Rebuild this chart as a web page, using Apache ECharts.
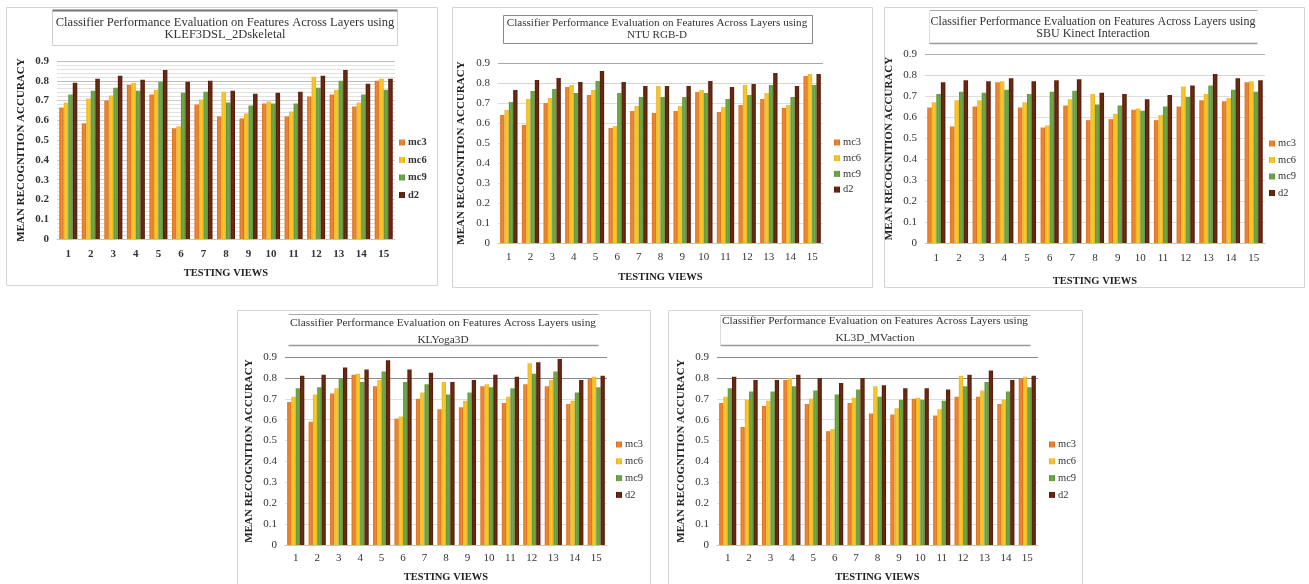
<!DOCTYPE html>
<html><head><meta charset="utf-8">
<script src="https://cdn.jsdelivr.net/npm/echarts@6/dist/echarts.min.js"></script>
<style>html,body{margin:0;padding:0;background:#fff}#c{width:1309px;height:584px}</style>
</head><body><div id="c"></div>
<script>
// ---------- DATA ----------
const views = ['1','2','3','4','5','6','7','8','9','10','11','12','13','14','15'];
const seriesNames = ['mc3','mc6','mc9','d2'];
const titleLine1 = 'Classifier Performance Evaluation on Features Across Layers using';
const datasetNames = ['KLEF3DSL_2Dskeletal','NTU RGB-D','SBU Kinect Interaction','KLYoga3D','KL3D_MVaction'];
const yAxisTitle = 'MEAN RECOGNITION ACCURACY';
const xAxisTitle = 'TESTING VIEWS';

const klef_mc3 = [0.665,0.585,0.700,0.780,0.730,0.560,0.680,0.620,0.610,0.685,0.620,0.720,0.730,0.670,0.800];
const klef_mc6 = [0.690,0.710,0.725,0.790,0.755,0.570,0.705,0.745,0.635,0.695,0.645,0.820,0.755,0.690,0.810];
const klef_mc9 = [0.730,0.750,0.765,0.750,0.795,0.740,0.745,0.690,0.675,0.685,0.685,0.765,0.800,0.730,0.755];
const klef_d2  = [0.790,0.810,0.825,0.805,0.855,0.795,0.800,0.750,0.735,0.740,0.745,0.825,0.855,0.785,0.810];

const ntu_mc3 = [0.640,0.590,0.700,0.780,0.740,0.575,0.660,0.650,0.660,0.755,0.655,0.690,0.720,0.675,0.835];
const ntu_mc6 = [0.665,0.720,0.725,0.790,0.765,0.585,0.685,0.785,0.685,0.765,0.680,0.790,0.750,0.690,0.845];
const ntu_mc9 = [0.705,0.760,0.770,0.750,0.810,0.750,0.730,0.730,0.730,0.750,0.720,0.740,0.790,0.730,0.790];
const ntu_d2  = [0.765,0.815,0.825,0.805,0.860,0.805,0.785,0.785,0.785,0.810,0.780,0.795,0.850,0.785,0.845];

const sbu_mc3 = [0.645,0.555,0.650,0.765,0.645,0.550,0.655,0.585,0.590,0.635,0.585,0.650,0.680,0.675,0.765];
const sbu_mc6 = [0.670,0.680,0.680,0.770,0.670,0.560,0.685,0.710,0.615,0.640,0.610,0.745,0.710,0.690,0.770];
const sbu_mc9 = [0.710,0.720,0.715,0.730,0.710,0.720,0.725,0.660,0.655,0.630,0.650,0.695,0.750,0.730,0.720];
const sbu_d2  = [0.765,0.775,0.770,0.785,0.770,0.775,0.780,0.715,0.710,0.685,0.705,0.750,0.805,0.785,0.775];

const yoga_mc3 = [0.685,0.590,0.725,0.815,0.760,0.605,0.700,0.650,0.660,0.760,0.680,0.770,0.760,0.675,0.795];
const yoga_mc6 = [0.710,0.720,0.750,0.820,0.790,0.615,0.730,0.780,0.690,0.770,0.710,0.870,0.790,0.690,0.805];
const yoga_mc9 = [0.750,0.755,0.795,0.780,0.830,0.780,0.770,0.720,0.730,0.755,0.750,0.820,0.830,0.730,0.755];
const yoga_d2  = [0.810,0.815,0.850,0.840,0.885,0.840,0.825,0.780,0.790,0.815,0.805,0.875,0.890,0.790,0.810];

const mv_mc3 = [0.680,0.565,0.665,0.790,0.675,0.545,0.680,0.630,0.625,0.700,0.620,0.710,0.710,0.675,0.795];
const mv_mc6 = [0.710,0.695,0.690,0.800,0.700,0.555,0.705,0.760,0.655,0.705,0.650,0.810,0.740,0.695,0.805];
const mv_mc9 = [0.750,0.735,0.735,0.760,0.740,0.720,0.745,0.710,0.695,0.695,0.690,0.760,0.780,0.735,0.755];
const mv_d2  = [0.805,0.790,0.790,0.815,0.800,0.775,0.800,0.765,0.750,0.750,0.745,0.815,0.835,0.790,0.810];

const panelData = [
  [klef_mc3, klef_mc6, klef_mc9, klef_d2],
  [ntu_mc3, ntu_mc6, ntu_mc9, ntu_d2],
  [sbu_mc3, sbu_mc6, sbu_mc9, sbu_d2],
  [yoga_mc3, yoga_mc6, yoga_mc9, yoga_d2],
  [mv_mc3, mv_mc6, mv_mc9, mv_d2]
];

// ---------- LAYOUT / STYLE ----------
const FONT = '"Liberation Serif", "DejaVu Serif", serif';
const barBase  = ['#DB6E1E', '#EBB416', '#5A9436', '#521A09'];
const barLight = ['#EE8A34', '#F6CB36', '#74AA4C', '#6E2C14'];

const layout = [
  {frame:[6,7,431,278], box:[52,10,345,35], boxType:1, cx:225, ty:[23,35], fs:12.5,
   grid:{left:57,top:61,width:338,height:178}, bold:true, lg:{left:399,top:137,gap:6.5},
   yGap:30, xGap:29, xMargin:10, top:['#bdbdbd','#bdbdbd'], line:'#cfcfcf', minor:true},
  {frame:[452,7,420,280], box:[503,15,309,28], boxType:2, cx:657, ty:[23,35], fs:11.1,
   grid:{left:498,top:63,width:325,height:180}, bold:false, lg:{left:834,top:137,gap:4.7},
   yGap:31, xGap:29, xMargin:9, top:['#d6d6d6','#a8a8a8'], line:'#dedede', minor:false},
  {frame:[884,7,420,280], box:[929,10,328,33], boxType:3, cx:1093, ty:[22,34], fs:12,
   grid:{left:925,top:54,width:340,height:189}, bold:false, lg:{left:1269,top:138,gap:5.5},
   yGap:30, xGap:33, xMargin:10, top:['#d6d6d6','#b0b0b0'], line:'#dedede', minor:false},
  {frame:[237,310,413,290], box:[288,314,310,31], boxType:4, cx:443, ty:[323,340], fs:11.3,
   grid:{left:285,top:357,width:322,height:189}, bold:false, lg:{left:616,top:439,gap:5.8},
   yGap:30, xGap:27, xMargin:8, top:['#8a8a8a','#8a8a8a'], line:'#dedede', minor:false},
  {frame:[668,310,414,290], box:[720,315,310,30], boxType:5, cx:875, ty:[321,338], fs:11.3,
   grid:{left:717,top:357,width:321,height:189}, bold:false, lg:{left:1049,top:439,gap:5.8},
   yGap:30, xGap:27, xMargin:8, top:['#8a8a8a','#8a8a8a'], line:'#dedede', minor:false}
];

function grad(j){
  return new echarts.graphic.LinearGradient(0,0,1,0,[
    {offset:0,color:barBase[j]},{offset:0.5,color:barLight[j]},{offset:1,color:barBase[j]}]);
}

const grids=[], xAxes=[], yAxes=[], series=[], legends=[], graphics=[];
layout.forEach((L,i)=>{
  grids.push(Object.assign({containLabel:false}, L.grid));
  const w = L.bold ? 'bold' : 'normal';
  xAxes.push({type:'category', gridIndex:i, data:views,
    axisTick:{show:false}, axisLine:{lineStyle:{color:'#c4c4c4'}},
    axisLabel:{fontFamily:FONT, fontSize:11, color:'#333', fontWeight:w, margin:L.xMargin},
    name:xAxisTitle, nameLocation:'middle', nameGap:L.xGap,
    nameTextStyle:{fontFamily:FONT, fontSize:10.5, fontWeight:'bold', color:'#222'}});
  const lineColors=[]; for(let k=0;k<10;k++) lineColors.push(k===8?L.top[0]:(k===9?L.top[1]:L.line));
  yAxes.push({type:'value', gridIndex:i, min:0, max:0.9, interval:0.1,
    axisLine:{show:false}, axisTick:{show:false},
    axisLabel:{fontFamily:FONT, fontSize:11, color:'#333', fontWeight:w, margin:8},
    splitLine:{lineStyle:{color:lineColors}},
    minorTick:{show:false, splitNumber:5},
    minorSplitLine:{show:L.minor, lineStyle:{color:'#e2e2e2'}},
    name:yAxisTitle, nameLocation:'middle', nameGap:L.yGap,
    nameTextStyle:{fontFamily:FONT, fontSize:11, fontWeight:'bold', color:'#222'}});
  seriesNames.forEach((n,j)=>{
    series.push({type:'bar', name:n, xAxisIndex:i, yAxisIndex:i, data:panelData[i][j],
      barGap:'0%', barCategoryGap:'20%', itemStyle:{color:grad(j)}, silent:true, animation:false});
  });
  legends.push({orient:'vertical', left:L.lg.left, top:L.lg.top, padding:0,
    itemWidth:6, itemHeight:6, itemGap:L.lg.gap, icon:'rect', data:seriesNames,
    selectedMode:false,
    textStyle:{fontFamily:FONT, fontSize:10.5, color:'#333', fontWeight:w, padding:[0,0,0,-2]}});
  const f=L.frame;
  graphics.push({type:'rect', shape:{x:f[0]+0.5,y:f[1]+0.5,width:f[2],height:f[3]},
    style:{fill:'none', stroke:'#d4d4d4', lineWidth:1}, z:-10});
  const b=L.box, bx=b[0]+0.5, by=b[1]+0.5;
  if(L.boxType===1){
    graphics.push({type:'rect', shape:{x:bx,y:by,width:b[2],height:b[3]}, style:{fill:'#fff',stroke:'#cfcfcf',lineWidth:1}});
    graphics.push({type:'line', shape:{x1:bx,y1:by,x2:bx+b[2],y2:by}, style:{stroke:'#777',lineWidth:2}});
  } else if(L.boxType===2){
    graphics.push({type:'rect', shape:{x:bx,y:by,width:b[2],height:b[3]}, style:{fill:'#fff',stroke:'#888',lineWidth:1}});
  } else {
    graphics.push({type:'line', shape:{x1:bx,y1:by,x2:bx+b[2],y2:by}, style:{stroke:'#aaa',lineWidth:1}});
    graphics.push({type:'line', shape:{x1:bx,y1:by+b[3],x2:bx+b[2],y2:by+b[3]}, style:{stroke:'#999',lineWidth:1.5}});
    if(L.boxType!==4) graphics.push({type:'line', shape:{x1:bx,y1:by,x2:bx,y2:by+b[3]}, style:{stroke:'#ddd',lineWidth:1}});
  }
  graphics.push({type:'text', x:L.cx, y:L.ty[0], style:{text:titleLine1, align:'center', verticalAlign:'middle',
    font:'normal '+L.fs+'px '+FONT, fill:'#333'}});
  graphics.push({type:'text', x:L.cx, y:L.ty[1], style:{text:datasetNames[i], align:'center', verticalAlign:'middle',
    font:'normal '+L.fs+'px '+FONT, fill:'#333'}});
});

const chart = echarts.init(document.getElementById('c'), null, {renderer:'canvas'});
chart.setOption({
  animation:false, backgroundColor:'#fff',
  textStyle:{fontFamily:FONT},
  grid:grids, xAxis:xAxes, yAxis:yAxes, series:series, legend:legends,
  graphic:graphics
});
</script></body></html>
